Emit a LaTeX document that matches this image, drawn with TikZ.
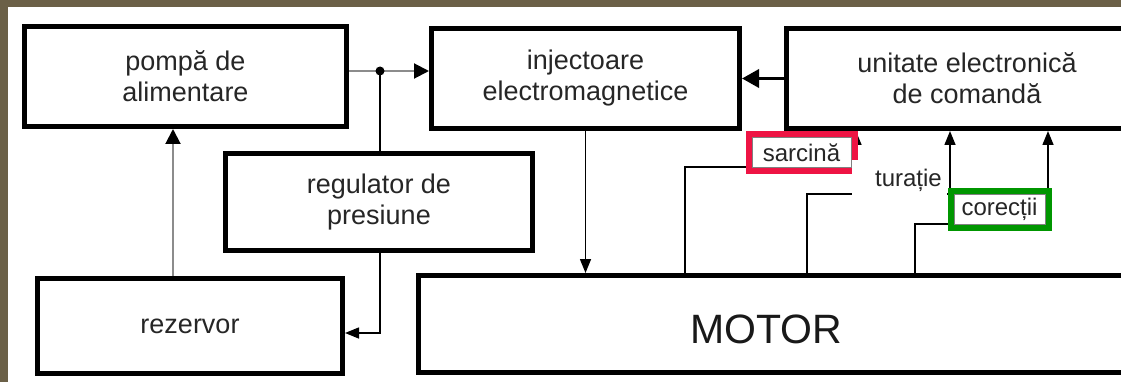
\documentclass[tikz,border=0pt]{standalone}
\usepackage{fontspec}
\setmainfont{Liberation Sans}
\usetikzlibrary{arrows.meta,positioning,fit}
\definecolor{framebg}{RGB}{107,96,71}
\definecolor{markred}{RGB}{238,20,68}
\definecolor{markgreen}{RGB}{0,150,0}

\begin{document}
\begin{tikzpicture}[x=1pt, y=-1pt,
    blok/.style={rectangle, draw=black, line width=5pt, fill=white,
        font=\fontsize{27}{31}\selectfont, text=black!85, align=center,
        inner sep=0pt},
    eticheta/.style={rectangle, draw=black!50, line width=1pt, fill=white,
        inner sep=0pt, font=\fontsize{24}{28}\selectfont, text=black!85},
    ramred/.style={rectangle, draw=markred, line width=6pt, inner sep=3pt},
    ramgreen/.style={rectangle, draw=markgreen, line width=6pt, inner sep=3pt},
    fuel/.style={draw=black!45, line width=2pt},
    fuelarr/.style={fuel, -{Triangle[length=15pt, width=15pt, black]}},
    ctl/.style={draw=black, line width=1.5pt},
    arr/.style={ctl, -{Triangle[length=14pt, width=11pt]}},
    bigarr/.style={draw=black, line width=3.5pt, -{Triangle[length=17pt, width=18pt]}}
]
    \useasboundingbox (0,0) rectangle (1121,382);
    \clip (0,0) rectangle (1121,382);
    \fill[white] (0,0) rectangle (1121,382);
    \fill[framebg] (0,0) rectangle (1121,7.5);
    \fill[framebg] (0,0) rectangle (7.5,382);

    % blocks
    \node[blok, minimum width=322pt, minimum height=100pt] (pompa) at (185.5,76.5) {pompă de\\alimentare};
    \node[blok, minimum width=308pt, minimum height=100pt] (inject) at (585.5,78.5) {injectoare\\electromagnetice};
    \node[blok, minimum width=361pt, minimum height=100pt] (ecu) at (967,78.5) {unitate electronică\\de comandă};
    \node[blok, minimum width=307pt, minimum height=97pt] (reg) at (379,202) {regulator de\\presiune};
    \node[blok, minimum width=305pt, minimum height=95pt] (rez) at (190,326) {rezervor};
    \node[blok, minimum width=739pt, minimum height=97pt] (motor) at (788,324) {};
    \node[font=\fontsize{41}{45}\selectfont, text=black!90] (motorlbl) at (766,329) {MOTOR};

    \coordinate (jn) at (380,71);
    \coordinate (ret) at (380,333);
    \coordinate (urc) at (173,0);
    \coordinate (s1) at (685,167);
    \coordinate (s2) at (856,167);
    \coordinate (t1) at (807,194);
    \coordinate (t2) at (950,194);
    \coordinate (c1) at (915,224);
    \coordinate (c2) at (1048,224);

    % fuel circuit
    \draw[fuel] (pompa.east |- jn) -- (jn);
    \draw[fuelarr] (jn) -- (inject.west |- jn);
    \draw[ctl] (jn) -- (reg.north -| jn);
    \fill (jn) circle[radius=4.5pt];
    \draw[fuelarr] (rez.north -| urc) -- (pompa.south -| urc);
    \draw[arr] (reg.south -| ret) -- (ret) -- (rez.east |- ret);

    % control
    \draw[arr] (inject.south) -- (inject.south |- motor.north);
    \draw[bigarr] (ecu.west) -- (inject.east);
    \draw[arr] (motor.north -| s1) -- (s1) -- (s2) -- (ecu.south -| s2);
    \draw[arr] (motor.north -| t1) -- (t1) -- (t2) -- (ecu.south -| t2);
    \draw[arr] (motor.north -| c1) -- (c1) -- (c2) -- (ecu.south -| c2);

    % signal labels
    \node[eticheta, minimum width=99pt, minimum height=30pt] (sarcina) at (801.5,153) {sarcină};
    \node[ramred, fit=(sarcina)] (sarcinaram) {};
    \node[fill=white, inner xsep=5pt, inner ysep=0pt, minimum height=40pt,
        text width=85pt, align=right, anchor=east, text=black!85,
        font=\fontsize{24}{28}\selectfont] (turatie) at (947,180) {turație};
    \node[eticheta, minimum width=91pt, minimum height=29pt] (corectii) at (999.5,209.5) {corecții};
    \node[ramgreen, fit=(corectii)] (corectiiram) {};
\end{tikzpicture}
\end{document}
